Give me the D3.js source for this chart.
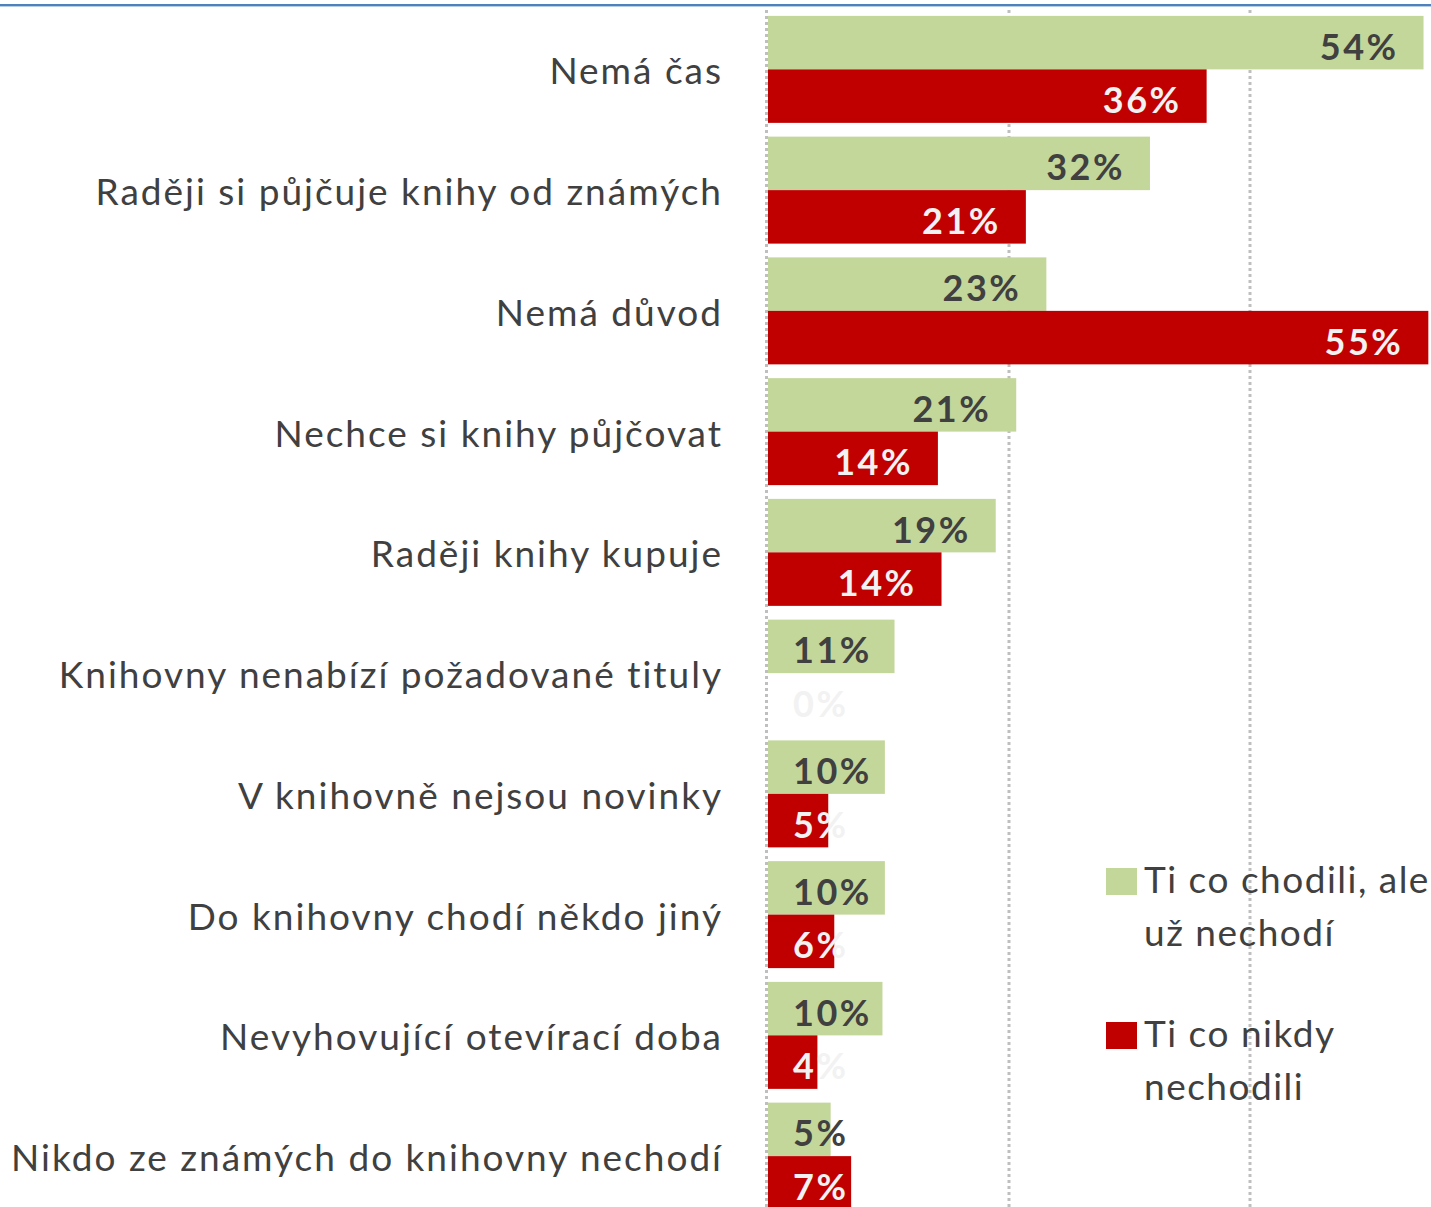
<!DOCTYPE html>
<html>
<head>
<meta charset="utf-8">
<script src="https://cdn.jsdelivr.net/npm/d3@7"></script>
<style>
  body { margin: 0; background: #fff; }
  svg { display: block; font-family: Lato, "Open Sans", sans-serif; }
</style>
</head>
<body>
<svg id="chart" width="1431" height="1207"></svg>
<script>
// reasons why people don't go to the library, two groups of respondents
const categories = [
  'Nemá čas',
  'Raději si půjčuje knihy od známých',
  'Nemá důvod',
  'Nechce si knihy půjčovat',
  'Raději knihy kupuje',
  'Knihovny nenabízí požadované tituly',
  'V knihovně nejsou novinky',
  'Do knihovny chodí někdo jiný',
  'Nevyhovující otevírací doba',
  'Nikdo ze známých do knihovny nechodí'
];
const formerVisitors = [54.4, 31.7, 23.1, 20.6, 18.9, 10.5, 9.7, 9.7, 9.5, 5.2];
const neverVisited = [36.4, 21.4, 54.8, 14.1, 14.4, 0, 5.0, 5.5, 4.1, 6.9];
const seriesNames = ['Ti co chodili, ale už nechodí', 'Ti co nikdy nechodili'];
const legendLines = [['Ti co chodili, ale', 'už nechodí'], ['Ti co nikdy', 'nechodili']];
const gridTicks = [0, 20, 40];

const GREEN = '#c4d79b';
const RED = '#c00000';
const TEXT_DARK = '#404040';
const TEXT_LIGHT = '#f2f2f2';

const AXIS_X = 768;
const PX_PER_PCT = 12.05;
const LABEL_PAD = 27;
const LABEL_MIN_START = 793;

const svg = d3.select('#chart');

const x = d3.scaleLinear()
  .domain([0, 60])
  .range([AXIS_X, AXIS_X + 60 * PX_PER_PCT]);

const y = d3.scaleBand()
  .domain(categories)
  .range([9, 9 + 10 * 120.75])
  .paddingInner(0.114)
  .paddingOuter(0.057);

const ySeries = d3.scaleBand()
  .domain([0, 1])
  .range([0, y.bandwidth()]);

const rows = categories.map((c, i) => ({
  category: c,
  values: [formerVisitors[i], neverVisited[i]]
}));

// top border line
svg.append('rect')
  .attr('x', 0).attr('y', 4)
  .attr('width', 1431).attr('height', 2)
  .attr('fill', '#4f81bd');
svg.append('rect')
  .attr('x', 0).attr('y', 6)
  .attr('width', 1431).attr('height', 1)
  .attr('fill', '#b8cce4');

// dotted gridlines (incl. the value axis at 0)
svg.append('g')
  .selectAll('line')
  .data(gridTicks)
  .join('line')
    .attr('x1', d => x(d) - (d === 0 ? 1.5 : 0))
    .attr('x2', d => x(d) - (d === 0 ? 1.5 : 0))
    .attr('y1', 10)
    .attr('y2', 1207)
    .attr('stroke', '#bfbfbf')
    .attr('stroke-width', 3)
    .attr('stroke-dasharray', '3 3');

const groups = svg.append('g')
  .selectAll('g')
  .data(rows)
  .join('g')
    .attr('transform', d => `translate(0,${y(d.category)})`);

groups.selectAll('rect')
  .data(d => d.values.map((v, s) => ({ v, s })))
  .join('rect')
    .attr('x', x(0))
    .attr('y', d => ySeries(d.s))
    .attr('width', d => x(d.v) - x(0))
    .attr('height', ySeries.bandwidth())
    .attr('fill', d => d.s === 0 ? GREEN : RED);

groups.selectAll('text.val')
  .data(d => d.values.map((v, s) => ({ v, s })))
  .join('text')
    .attr('class', 'val')
    .attr('y', d => ySeries(d.s) + ySeries.bandwidth() / 2 + 17)
    .attr('text-anchor', 'end')
    .attr('font-size', 36)
    .attr('font-weight', 'bold')
    .attr('letter-spacing', 2.5)
    .attr('fill', d => d.s === 0 ? TEXT_DARK : TEXT_LIGHT)
    .text(d => Math.round(d.v) + '%')
    .each(function (d) {
      const w = this.getComputedTextLength();
      d3.select(this).attr('x', Math.max(x(d.v) - LABEL_PAD + 2, LABEL_MIN_START + w));
    });

// category labels
groups.append('text')
  .attr('x', 723)
  .attr('y', y.bandwidth() / 2 + 15)
  .attr('text-anchor', 'end')
  .attr('font-size', 37)
  .attr('letter-spacing', 2)
  .attr('fill', TEXT_DARK)
  .text(d => d.category);

// legend
const legend = svg.append('g')
  .selectAll('g')
  .data(seriesNames)
  .join('g')
    .attr('transform', (d, i) => `translate(1106,${868 + i * 154})`);

legend.append('rect')
  .attr('width', 31)
  .attr('height', 27)
  .attr('fill', (d, i) => i === 0 ? GREEN : RED);

legend.each(function (d, i) {
  d3.select(this).selectAll('text')
    .data(legendLines[i])
    .join('text')
      .attr('x', 38)
      .attr('y', (t, j) => 25 + j * 53)
      .attr('font-size', 37)
      .attr('letter-spacing', 1.5)
      .attr('fill', TEXT_DARK)
      .text(t => t);
});
</script>
</body>
</html>
